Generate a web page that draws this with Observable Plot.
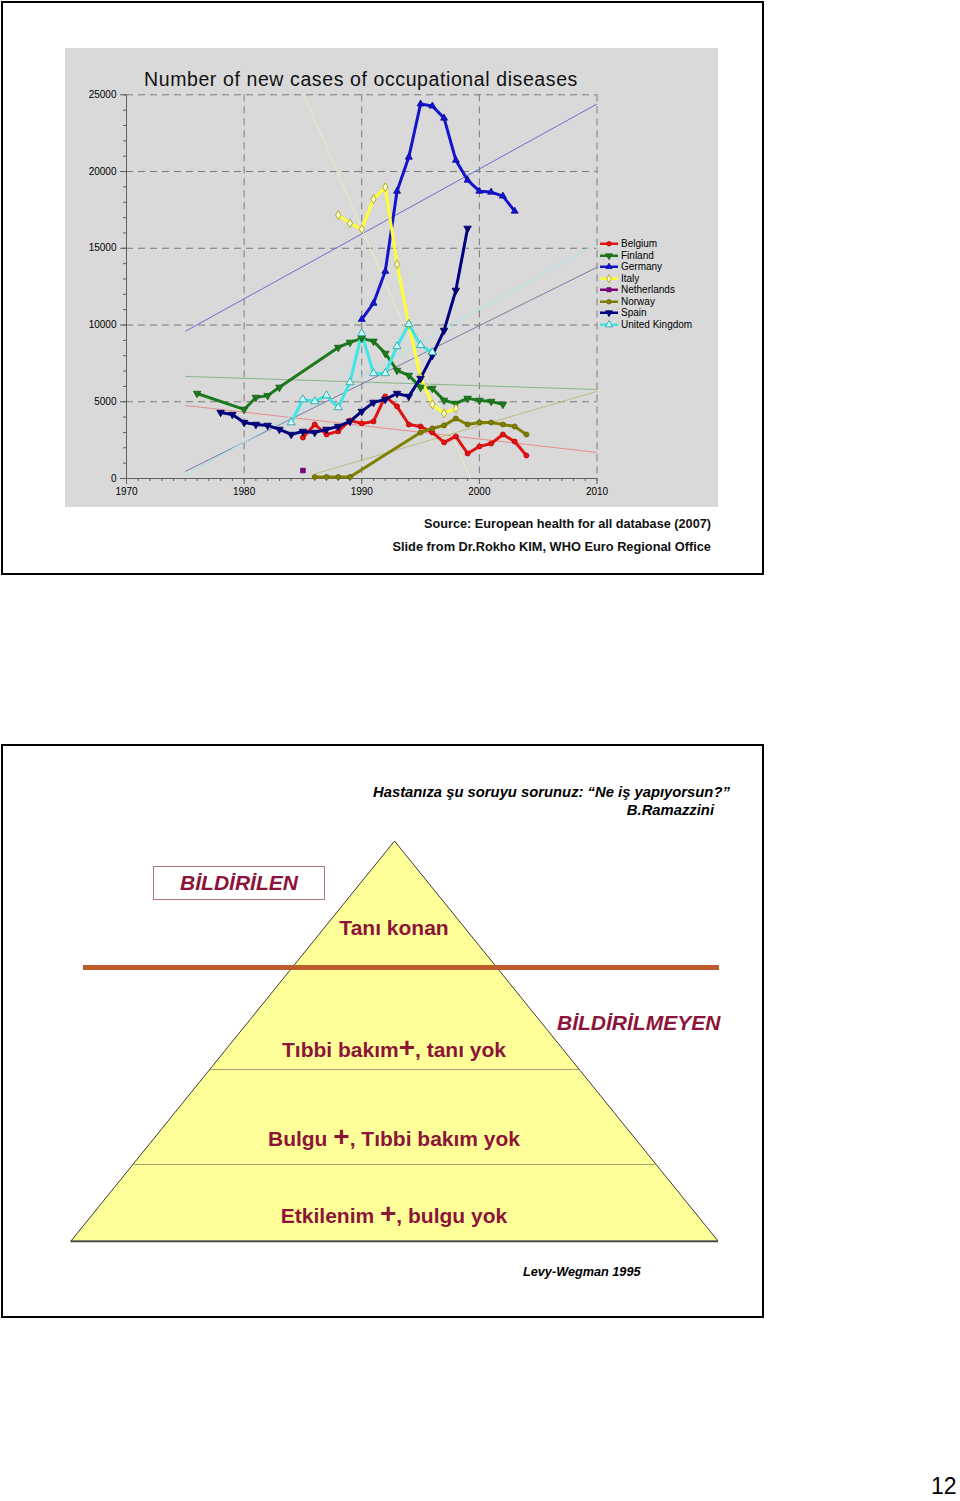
<!DOCTYPE html>
<html><head><meta charset="utf-8">
<script src="https://cdn.jsdelivr.net/npm/d3@7"></script>
<script src="https://cdn.jsdelivr.net/npm/@observablehq/plot@0.6"></script>
<style>
body{margin:0;background:#fff;font-family:"Liberation Sans",Arial,sans-serif;}
#page{position:relative;width:960px;height:1501px;overflow:hidden;background:#fff;}
.abs{position:absolute;white-space:nowrap;}
.frame{position:absolute;border:2px solid #000;box-sizing:border-box;}
</style></head><body><div id="page">
<div class="frame" style="left:1px;top:1px;width:763px;height:574px"></div>
<div class="abs" style="left:65px;top:48px;width:653px;height:459px;background:#d9d9d9"></div>
<div class="abs" style="left:144px;top:70px;font-size:19.5px;line-height:19.5px;letter-spacing:0.6px;color:#111">Number of new cases of occupational diseases</div>
<div id="chart1" class="abs" style="left:0;top:0;width:760px;height:520px"></div>
<div id="legend" class="abs" style="left:600px;top:238px"></div>
<div class="abs" style="left:0;top:518px;width:711px;text-align:right;font-weight:bold;font-size:12.7px;line-height:12.7px;color:#111">Source: European health for all database (2007)</div>
<div class="abs" style="left:0;top:541px;width:711px;text-align:right;font-weight:bold;font-size:12.8px;line-height:12.8px;color:#111">Slide from Dr.Rokho KIM, WHO Euro Regional Office</div>

<div class="frame" style="left:1px;top:744px;width:763px;height:574px"></div>
<div id="chart2" class="abs" style="left:0;top:745px;width:760px;height:571px"></div>
<div class="abs" style="left:373px;top:785px;font-weight:bold;font-style:italic;font-size:14.8px;line-height:14.8px;color:#000">Hastanıza şu soruyu sorunuz: “Ne iş yapıyorsun?”</div>
<div class="abs" style="left:0;top:803px;width:714px;text-align:right;font-weight:bold;font-style:italic;font-size:14.8px;line-height:14.8px;color:#000">B.Ramazzini</div>
<div class="abs" style="left:153px;top:866px;width:172px;height:34px;box-sizing:border-box;border:1px solid #b07878;background:#fff;text-align:center;font-weight:bold;font-style:italic;font-size:21px;line-height:32px;color:#8c1438">BİLDİRİLEN</div>
<div class="abs" style="left:557px;top:1012px;font-weight:bold;font-style:italic;font-size:21px;line-height:21px;color:#8c1438">BİLDİRİLMEYEN</div>
<div class="abs" style="left:523px;top:1266px;font-weight:bold;font-style:italic;font-size:12.7px;line-height:12.7px;color:#000">Levy-Wegman 1995</div>
<div class="abs" style="left:931px;top:1474px;font-size:23px;line-height:24px;color:#000">12</div>
</div>
<script>
// ---------------- data: chart 1 ----------------
const seriesNames = ["Belgium","Finland","Germany","Italy","Netherlands","Norway","Spain","United Kingdom"];

const belgiumYears = [1985,1986,1987,1988,1989,1990,1991,1992,1993,1994,1995,1996,1997,1998,1999,2000,2001,2002,2003,2004];
const belgiumCases = [2670,3520,2870,3070,3780,3590,3720,5350,4700,3520,3390,3000,2350,2740,1630,2090,2280,2870,2410,1500];

const finlandYears = [1976,1980,1981,1982,1983,1988,1989,1990,1991,1992,1993,1994,1995,1996,1997,1998,1999,2000,2001,2002];
const finlandCases = [5540,4500,5280,5400,5940,8540,8870,9130,8940,8150,7040,6720,5940,5870,5090,4890,5220,5090,5020,4830];

const germanyYears = [1990,1991,1992,1993,1994,1995,1996,1997,1998,1999,2000,2001,2002,2003];
const germanyCases = [10370,11420,13500,18720,20940,24400,24270,23480,20740,19440,18720,18660,18400,17420];

const italyYears = [1988,1989,1990,1991,1992,1993,1994,1995,1996,1997,1998];
const italyCases = [17160,16630,16240,18200,18980,13960,10050,6590,4830,4240,4570];

const netherlandsYears = [1985];
const netherlandsCases = [520];

const norwayYears = [1986,1987,1988,1989,1995,1996,1997,1998,1999,2000,2001,2002,2003,2004];
const norwayCases = [100,100,100,100,3000,3260,3460,3910,3520,3650,3650,3520,3390,2870];

const spainYears = [1978,1979,1980,1981,1982,1983,1984,1985,1986,1987,1988,1989,1990,1991,1992,1993,1994,1995,1996,1997,1998,1999];
const spainCases = [4300,4170,3650,3520,3460,3200,2870,3070,3000,3200,3390,3720,4370,4960,5150,5540,5350,6520,8020,9650,12260,16300];

const ukYears = [1984,1985,1986,1987,1988,1989,1990,1991,1992,1993,1994,1995,1996];
const ukCases = [3650,5150,5020,5410,4630,6260,9460,6850,6850,8610,10050,8680,8220];

// linear trend lines
const trendNames      = ["Belgium","Finland","Germany","Italy","Norway","Spain","United Kingdom"];
const trendStartYear  = [1975,1975,1975,1985.07,1986,1975,1975];
const trendEndYear    = [2010,2010,2010,1999.25,2010,2010,2010];
const trendStartValue = [4760,6650,9590,25000,300,460,200];
const trendEndValue   = [1700,5800,24400,0,5680,13760,15330];

const yMajorTicks = [0,5000,10000,15000,20000,25000];
const xMajorTicks = [1970,1980,1990,2000,2010];

// ---------------- data: chart 2 ----------------
const pyramidLevels = ["Tanı konan","Tıbbi bakım+, tanı yok","Bulgu +, Tıbbi bakım yok","Etkilenim +, bulgu yok"];
const levelBoundaries = [0, 0.315, 0.57, 0.8075, 1];

// ---------------- styles ----------------
const FONT = "Liberation Sans, Arial, sans-serif";
const lineColor  = {"Belgium":"#e01414","Finland":"#1c7a1c","Germany":"#1414cc","Italy":"#ffff33","Netherlands":"#800080","Norway":"#808000","Spain":"#000080","United Kingdom":"#3ee6e6"};
const markFill   = {"Belgium":"#e01414","Finland":"#1c7a1c","Germany":"#1414cc","Italy":"#ffffd0","Netherlands":"#800080","Norway":"#808000","Spain":"#000080","United Kingdom":"#c8ffff"};
const markStroke = {"Belgium":"#c00000","Finland":"#156015","Germany":"#0a0aa0","Italy":"#9a9a00","Netherlands":"#600060","Norway":"#606000","Spain":"#000060","United Kingdom":"#1a9a9a"};
const trendColor = {"Belgium":"#e88c8c","Finland":"#86b486","Germany":"#6c6cd8","Italy":"#ececc4","Norway":"#bcbc84","Spain":"#7a7aa8","United Kingdom":"#a8e6e6"};

const triangleDown = {draw(context, size){
  const s3 = Math.sqrt(3);
  const y = -Math.sqrt(size / (s3 * 3));
  context.moveTo(0, -y * 2);
  context.lineTo(-s3 * y, y);
  context.lineTo(s3 * y, y);
  context.closePath();
}};
const symbolOf = {"Belgium":"circle","Finland":triangleDown,"Germany":"triangle","Italy":"diamond","Netherlands":"square","Norway":"circle","Spain":triangleDown,"United Kingdom":"triangle"};
const d3SymbolOf = {"circle":d3.symbolCircle,"triangle":d3.symbolTriangle,"diamond":d3.symbolDiamond,"square":d3.symbolSquare};
const radiusOf = {"Belgium":2.5,"Finland":2.8,"Germany":2.6,"Italy":2.7,"Netherlands":2.6,"Norway":2.5,"Spain":2.8,"United Kingdom":3};

const yearsOf = {"Belgium":belgiumYears,"Finland":finlandYears,"Germany":germanyYears,"Italy":italyYears,"Netherlands":netherlandsYears,"Norway":norwayYears,"Spain":spainYears,"United Kingdom":ukYears};
const casesOf = {"Belgium":belgiumCases,"Finland":finlandCases,"Germany":germanyCases,"Italy":italyCases,"Netherlands":netherlandsCases,"Norway":norwayCases,"Spain":spainCases,"United Kingdom":ukCases};

const rows = seriesNames.map(name => yearsOf[name].map((year,i) => ({series:name, year, value:casesOf[name][i]})));
const trends = trendNames.map((name,i) => ({series:name, x1:trendStartYear[i], x2:trendEndYear[i], y1:trendStartValue[i], y2:trendEndValue[i]}));

const yMinor = d3.range(0, 25001, 1000);
const xMinor = d3.range(1970, 2011, 1);

const marks1 = [
  Plot.gridY(yMajorTicks.slice(1), {stroke:"#7a7a7a", strokeOpacity:1, strokeDasharray:"7,5"}),
  Plot.gridX(xMajorTicks.slice(1), {stroke:"#7a7a7a", strokeOpacity:1, strokeDasharray:"7,5"}),
  Plot.ruleX([1970], {stroke:"#606060"}),
  Plot.ruleY([0], {stroke:"#606060"}),
  Plot.axisY(yMinor, {tickSize:3, tickFormat:() => "", stroke:"#606060", label:null}),
  Plot.axisY(yMajorTicks, {tickSize:6, tickPadding:4, tickFormat:d => String(d), stroke:"#606060", fill:"#000", fontSize:10, label:null}),
  Plot.axisX(xMinor, {tickSize:3, tickFormat:() => "", stroke:"#606060", label:null}),
  Plot.axisX(xMajorTicks, {tickSize:6, tickPadding:3, tickFormat:d => String(d), stroke:"#606060", fill:"#000", fontSize:10, label:null}),
];
trends.forEach(t => {
  marks1.push(Plot.link([t], {x1:"x1", y1:"y1", x2:"x2", y2:"y2", stroke:trendColor[t.series], strokeWidth:1}));
});
rows.forEach(r => {
  const name = r[0].series;
  marks1.push(Plot.line(r, {x:"year", y:"value", stroke:lineColor[name], strokeWidth:3, curve:"linear"}));
});
rows.forEach(r => {
  const name = r[0].series;
  marks1.push(Plot.dot(r, {x:"year", y:"value", symbol:symbolOf[name], r:radiusOf[name], fill:markFill[name], stroke:markStroke[name], strokeWidth:0.8}));
});

const chart1 = Plot.plot({
  width:760, height:520,
  marginLeft:126, marginRight:760-596.5, marginTop:94.3, marginBottom:42,
  x:{domain:[1970,2010]},
  y:{domain:[0,25000]},
  style:{background:"transparent", fontFamily:FONT, fontSize:"10px", color:"#000", overflow:"visible"},
  marks:marks1
});
document.getElementById("chart1").append(chart1);

// legend
const legend = document.getElementById("legend");
seriesNames.forEach(name => {
  const row = document.createElement("div");
  row.style.cssText = "height:11.5px;display:flex;align-items:center;font-size:10px;line-height:11.5px;color:#000;white-space:nowrap";
  const svg = d3.create("svg").attr("width",21).attr("height",11.5).style("display","block");
  svg.append("line").attr("x1",0).attr("x2",18).attr("y1",5.75).attr("y2",5.75).attr("stroke",lineColor[name]).attr("stroke-width",2.5);
  const sym = symbolOf[name];
  const d3sym = typeof sym === "string" ? d3SymbolOf[sym] : sym;
  const size = Math.PI * radiusOf[name] * radiusOf[name] * 0.8;
  svg.append("path").attr("transform","translate(9,5.75)").attr("d", d3.symbol(d3sym, size)())
     .attr("fill", markFill[name]).attr("stroke", markStroke[name]).attr("stroke-width",0.8);
  row.append(svg.node());
  const span = document.createElement("span");
  span.textContent = name;
  row.append(span);
  legend.append(row);
});

// ---------------- chart 2: pyramid ----------------
const pyramidShape = [{x:-1, top:1},{x:0, top:0},{x:1, top:1}];
const levelLabelY = [0.2175, 0.5225, 0.745, 0.9375];
const innerLines = levelBoundaries.slice(2, 4);

const chart2 = Plot.plot({
  width:760, height:571,
  marginLeft:71, marginRight:42, marginTop:96, marginBottom:75,
  x:{domain:[-1,1], axis:null},
  y:{domain:[0,1], reverse:true, axis:null},
  style:{background:"transparent", fontFamily:FONT, overflow:"visible"},
  marks:[
    Plot.areaY(pyramidShape, {x:"x", y1:"top", y2:() => 1, fill:"#ffff99", stroke:"#3a3a3a", strokeWidth:1}),
    Plot.ruleY([1], {x1:-1, x2:1, stroke:"#444", strokeWidth:1.5}),
    Plot.ruleY(innerLines, {y:d => d, x1:d => -d, x2:d => d, stroke:"#a8a070", strokeWidth:1}),
    Plot.ruleY([levelBoundaries[1]], {x1:-0.963, x2:1.003, stroke:"#bd5b2c", strokeWidth:5}),
    Plot.text(pyramidLevels, {x:0, y:(d,i) => levelLabelY[i], dx:-1, text:d => d, fill:"#8c1438", fontSize:21, fontWeight:"bold", textAnchor:"middle"})
  ]
});
document.getElementById("chart2").append(chart2);

// enlarge the "+" signs inside the pyramid labels
d3.select(chart2).selectAll("text").each(function(){
  const t = this.textContent;
  if (!t.includes("+")) return;
  const parts = t.split("+");
  this.textContent = "";
  parts.forEach((p, i) => {
    if (p) { const s = document.createElementNS("http://www.w3.org/2000/svg","tspan"); s.textContent = p; this.appendChild(s); }
    if (i < parts.length - 1) {
      const s = document.createElementNS("http://www.w3.org/2000/svg","tspan");
      s.textContent = "+"; s.setAttribute("font-size","28"); this.appendChild(s);
    }
  });
});
</script>
</body></html>
